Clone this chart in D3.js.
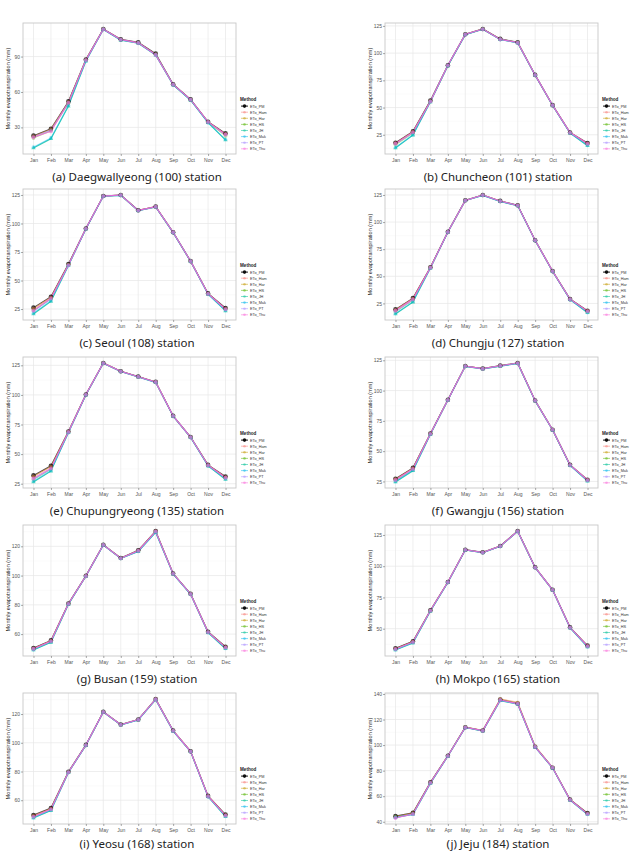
<!DOCTYPE html>
<html>
<head>
<meta charset="utf-8">
<script src="https://cdn.jsdelivr.net/npm/d3@7"></script>
<style>
  body { margin: 0; background: #fff; }
  svg { display: block; }
</style>
</head>
<body>
<div id="chart"></div>
<script>
const months = ["Jan","Feb","Mar","Apr","May","Jun","Jul","Aug","Sep","Oct","Nov","Dec"];
const methods = ["ETo_PM","ETo_Ham","ETo_Har","ETo_HS","ETo_JH","ETo_Mak","ETo_PT","ETo_Thu"];
const methodColors = ["#000000","#F8766D","#C49A00","#53B400","#00C094","#00B6EB","#A58AFF","#FB61D7"];

const captions = [
  "(a) Daegwallyeong (100) station", "(b) Chuncheon (101) station",
  "(c) Seoul (108) station", "(d) Chungju (127) station",
  "(e) Chupungryeong (135) station", "(f) Gwangju (156) station",
  "(g) Busan (159) station", "(h) Mokpo (165) station",
  "(i) Yeosu (168) station", "(j) Jeju (184) station"
];

const yTicks = [
  [30,60,90], [25,50,75,100,125],
  [25,50,75,100,125], [25,50,75,100,125],
  [25,50,75,100,125], [25,50,75,100,125],
  [60,80,100,120], [50,75,100,125],
  [60,80,100,120], [40,60,80,100,120,140]
];

// rows: PM, Ham, Har, HS, JH, Mak, PT, Thu
const daegwallyeong = [
  [23.0,28.9,52.0,87.5,113.4,104.6,102.1,92.5,66.6,53.7,34.8,24.9],
  [22.5,28.5,51.5,87.2,113.3,104.4,101.8,92.0,66.4,53.5,34.6,24.5],
  [22.3,28.3,51.3,87.0,113.2,104.3,101.7,91.8,66.3,53.4,34.5,24.3],
  [21.0,27.2,50.5,86.8,113.2,104.2,101.5,91.5,66.2,53.3,34.2,22.8],
  [12.5,20.4,48.0,86.0,113.0,103.9,101.3,91.2,66.0,53.0,34.0,19.3],
  [13.2,21.0,48.5,86.2,113.0,104.0,101.3,91.3,66.0,53.1,33.9,19.8],
  [21.8,27.5,51.0,86.9,113.1,104.3,101.6,91.6,66.2,53.4,34.4,23.8],
  [21.6,26.6,50.8,87.0,113.2,104.4,101.6,91.4,66.4,53.5,34.6,24.0]
];
const chuncheon = [
  [17.7,28.1,56.5,88.9,117.4,122.2,113.1,110.0,80.0,52.2,27.1,17.4],
  [17.3,27.8,56.0,88.7,117.3,122.1,112.9,109.8,79.9,52.1,27.0,17.0],
  [17.1,27.6,55.8,88.6,117.2,122.0,112.8,109.7,79.8,52.0,26.9,16.8],
  [15.8,26.5,55.5,88.5,117.2,122.0,112.7,109.6,79.8,52.0,26.8,16.0],
  [12.8,24.7,55.2,88.3,117.0,121.9,112.5,109.4,79.7,51.9,26.6,14.9],
  [13.3,25.0,55.3,88.4,117.0,121.9,112.5,109.4,79.7,51.9,26.5,15.2],
  [16.6,27.0,55.6,88.6,117.1,121.9,112.6,109.5,79.8,52.0,26.8,16.4],
  [17.0,27.4,55.6,88.8,117.3,122.1,112.8,109.7,80.0,52.2,27.0,16.9]
];
const seoul = [
  [26.2,35.8,64.4,95.6,124.1,125.0,111.6,114.8,92.3,67.0,38.7,25.9],
  [25.6,35.3,64.0,95.5,124.0,124.9,111.5,114.7,92.2,66.9,38.5,25.4],
  [25.2,35.0,63.9,95.4,124.0,124.9,111.4,114.6,92.2,66.9,38.4,25.1],
  [23.5,33.8,63.5,95.3,123.9,124.7,111.3,114.5,92.1,66.8,38.2,24.3],
  [20.6,31.7,63.0,95.2,123.8,124.6,111.2,114.4,92.0,66.8,38.0,23.3],
  [21.3,32.2,63.1,95.2,123.8,124.6,111.2,114.4,92.0,66.7,37.9,23.6],
  [23.2,33.9,63.3,95.3,123.9,124.8,111.3,114.5,92.1,66.9,38.2,24.6],
  [23.8,34.6,63.5,95.5,124.0,124.9,111.5,114.7,92.3,67.0,38.4,25.0]
];
const chungju = [
  [19.5,29.9,58.4,91.0,120.1,125.0,119.5,115.5,83.3,54.8,29.0,18.3],
  [19.1,29.5,58.2,90.9,120.0,124.9,119.4,115.4,83.2,54.7,28.9,18.0],
  [18.9,29.3,58.1,90.9,120.0,124.9,119.3,115.3,83.2,54.7,28.8,17.8],
  [17.2,28.0,57.8,90.8,119.9,124.8,119.2,115.2,83.1,54.6,28.7,17.2],
  [15.2,26.2,57.5,90.6,119.8,124.6,119.0,115.0,83.0,54.5,28.5,16.4],
  [15.6,26.6,57.6,90.7,119.8,124.6,119.0,115.0,83.0,54.5,28.4,16.6],
  [17.8,28.4,57.9,90.8,119.9,124.8,119.2,115.2,83.1,54.6,28.7,17.5],
  [18.6,29.0,58.0,90.9,120.0,124.9,119.4,115.4,83.3,54.8,28.9,17.9]
];
const chupungryeong = [
  [32.0,40.1,69.1,100.4,127.0,120.0,115.5,111.0,82.3,64.4,40.9,31.1],
  [31.4,39.6,68.9,100.3,126.9,119.9,115.4,110.9,82.2,64.3,40.7,30.7],
  [31.0,39.3,68.8,100.2,126.9,119.9,115.4,110.9,82.2,64.3,40.6,30.4],
  [28.5,37.3,68.4,100.1,126.8,119.8,115.3,110.7,82.1,64.2,40.3,29.5],
  [26.4,35.6,68.0,99.9,126.7,119.7,115.2,110.6,82.0,64.1,40.0,28.6],
  [27.0,36.1,68.1,100.0,126.7,119.7,115.2,110.6,82.0,64.1,40.0,28.9],
  [29.0,37.6,68.5,100.1,126.8,119.8,115.3,110.8,82.1,64.2,40.4,29.8],
  [29.7,38.1,68.7,100.3,126.9,119.9,115.4,110.9,82.3,64.4,40.6,30.2]
];
const gwangju = [
  [27.2,36.2,64.5,92.4,120.3,118.2,120.6,122.8,91.8,67.7,38.7,26.4],
  [26.9,35.9,64.4,92.3,120.2,118.1,120.5,122.7,91.7,67.6,38.6,26.2],
  [26.8,35.7,64.3,92.3,120.2,118.1,120.4,122.6,91.7,67.6,38.5,26.1],
  [25.6,34.8,64.1,92.2,120.1,118.0,120.3,122.5,91.6,67.5,38.4,25.8],
  [24.5,33.8,63.8,92.0,120.0,117.9,120.2,122.4,91.5,67.4,38.2,25.3],
  [24.8,34.1,63.9,92.1,120.0,117.9,120.2,122.4,91.5,67.4,38.2,25.5],
  [25.9,35.0,64.1,92.2,120.1,118.0,120.3,122.5,91.6,67.5,38.4,25.9],
  [26.4,35.5,64.3,92.3,120.2,118.1,120.5,122.7,91.8,67.7,38.6,26.2]
];
const busan = [
  [50.5,55.7,80.9,99.8,121.1,112.0,117.3,130.5,101.4,87.5,61.6,51.4],
  [50.2,55.4,80.8,99.7,121.0,111.9,117.1,130.3,101.3,87.4,61.5,51.1],
  [50.1,55.3,80.7,99.7,121.0,111.9,117.0,130.2,101.3,87.4,61.4,51.0],
  [49.6,54.8,80.5,99.6,120.9,111.8,116.7,129.9,101.2,87.3,61.2,50.5],
  [49.1,54.3,80.3,99.5,120.8,111.7,116.4,129.5,101.0,87.2,61.0,50.0],
  [49.3,54.5,80.4,99.5,120.8,111.7,116.5,129.6,101.1,87.2,61.0,50.2],
  [49.8,55.0,80.6,99.6,120.9,111.8,116.8,130.0,101.2,87.3,61.3,50.7],
  [50.0,55.2,80.7,99.7,121.0,111.9,117.0,130.2,101.3,87.4,61.4,50.9]
];
const mokpo = [
  [34.3,39.9,64.7,87.4,113.2,111.1,116.2,128.2,99.1,81.2,51.1,36.4],
  [34.0,39.6,64.6,87.3,113.1,111.0,116.1,128.1,99.0,81.1,51.0,36.2],
  [33.9,39.5,64.5,87.3,113.1,111.0,116.1,128.0,99.0,81.1,50.9,36.1],
  [33.4,39.0,64.2,87.1,113.0,110.9,116.0,127.9,98.9,81.0,50.7,35.7],
  [32.9,38.5,64.0,87.0,112.9,110.8,115.9,127.8,98.8,80.9,50.6,35.3],
  [33.1,38.7,64.1,87.0,112.9,110.8,115.9,127.8,98.8,80.9,50.6,35.5],
  [33.5,39.1,64.3,87.2,113.0,110.9,116.0,127.9,98.9,81.0,50.8,35.8],
  [33.8,39.4,64.5,87.3,113.1,111.0,116.1,128.1,99.0,81.1,50.9,36.1]
];
const yeosu = [
  [49.7,54.6,79.8,98.5,121.6,112.7,116.2,130.5,108.5,94.1,63.0,50.0],
  [49.3,54.2,79.7,98.4,121.5,112.6,116.1,130.4,108.4,94.0,62.9,49.7],
  [49.1,54.0,79.6,98.4,121.5,112.6,116.1,130.3,108.3,94.0,62.8,49.6],
  [48.3,53.3,79.4,98.3,121.4,112.5,116.0,130.1,108.2,93.9,62.6,49.1],
  [47.6,52.8,79.2,98.2,121.3,112.4,115.9,130.0,108.1,93.8,62.4,48.6],
  [47.8,53.0,79.3,98.2,121.3,112.4,115.9,130.0,108.1,93.8,62.4,48.8],
  [48.4,53.5,79.4,98.3,121.4,112.5,116.0,130.2,108.2,93.9,62.6,49.2],
  [48.6,53.8,79.5,98.4,121.5,112.6,116.1,130.3,108.4,94.0,62.8,49.4]
];
const jeju = [
  [44.4,47.0,70.9,91.7,114.0,111.4,135.6,132.5,98.7,82.3,57.4,46.8],
  [44.0,46.8,70.7,91.6,114.0,111.5,136.1,133.5,99.2,82.5,57.3,46.5],
  [43.9,46.7,70.6,91.6,114.0,111.4,135.9,133.2,99.0,82.4,57.3,46.4],
  [43.6,46.2,70.3,91.4,113.8,111.2,135.2,132.3,98.6,82.2,57.1,46.0],
  [43.4,45.7,70.0,91.2,113.7,111.0,134.8,132.0,98.3,82.0,56.9,45.7],
  [43.5,45.9,70.1,91.3,113.7,111.1,134.9,132.1,98.4,82.1,56.9,45.8],
  [43.2,46.0,70.4,91.4,113.8,111.2,135.1,132.3,98.5,82.2,57.1,46.0],
  [42.9,46.1,70.5,91.5,113.9,111.3,135.3,132.4,98.6,82.3,57.2,46.2]
];

const stations = [daegwallyeong, chuncheon, seoul, chungju, chupungryeong,
                  gwangju, busan, mokpo, yeosu, jeju];

var W = 637, H = 852;
var plotW = 213, plotH = 131;
var colLeft = [23, 385];
var rowTop = [23, 189, 357, 525, 693];

// per-method drawing opacity (line, point)
var lineAlpha = [0.7, 0.45, 0.4, 0.45, 0.75, 0.5, 0.7, 0.8];
var ptAlpha = [0.75, 0.3, 0.3, 0.35, 0.55, 0.35, 0.45, 0.5];

var svg = d3.select("#chart").append("svg")
  .attr("width", W).attr("height", H)
  .style("font-family", "'Liberation Sans', Arial, sans-serif");

var x = d3.scalePoint().domain(months).range([0, plotW]).padding(0.6);

stations.forEach(function(data, i) {
  var col = i % 2, row = Math.floor(i / 2);
  var g = svg.append("g")
    .attr("transform", "translate(" + colLeft[col] + "," + rowTop[row] + ")");

  var all = d3.merge(data);
  var lo = d3.min(all), hi = d3.max(all), pad = (hi - lo) * 0.05;
  var y = d3.scaleLinear().domain([lo - pad, hi + pad]).range([plotH, 0]);

  var ticks = yTicks[i];
  var step = ticks[1] - ticks[0];
  var minor = d3.range(ticks[0] - step / 2, ticks[ticks.length - 1] + step, step)
    .filter(function(v) { return v > y.domain()[0] && v < y.domain()[1]; });

  // panel background and grid
  g.append("rect").attr("width", plotW).attr("height", plotH).attr("fill", "#fff");
  g.selectAll(".minor").data(minor).enter().append("line")
    .attr("x1", 0).attr("x2", plotW)
    .attr("y1", function(d) { return y(d); }).attr("y2", function(d) { return y(d); })
    .attr("stroke", "#f2f2f2").attr("stroke-width", 0.4);
  g.selectAll(".major").data(ticks).enter().append("line")
    .attr("x1", 0).attr("x2", plotW)
    .attr("y1", function(d) { return y(d); }).attr("y2", function(d) { return y(d); })
    .attr("stroke", "#e6e6e6").attr("stroke-width", 0.7);
  g.selectAll(".vgrid").data(months).enter().append("line")
    .attr("x1", function(d) { return x(d); }).attr("x2", function(d) { return x(d); })
    .attr("y1", 0).attr("y2", plotH)
    .attr("stroke", "#e6e6e6").attr("stroke-width", 0.7);

  // series
  var line = d3.line()
    .x(function(d, k) { return x(months[k]); })
    .y(function(d) { return y(d); });

  data.forEach(function(vals, m) {
    g.append("path").datum(vals)
      .attr("d", line)
      .attr("fill", "none")
      .attr("stroke", methodColors[m])
      .attr("stroke-opacity", lineAlpha[m])
      .attr("stroke-width", 1.1);
  });
  data.forEach(function(vals, m) {
    var pts = g.selectAll(".pt" + m).data(vals).enter();
    if (m === 4) {
      pts.append("path")
        .attr("d", d3.symbol(d3.symbolTriangle, 9))
        .attr("transform", function(d, k) { return "translate(" + x(months[k]) + "," + y(d) + ")"; })
        .attr("fill", methodColors[m]).attr("fill-opacity", ptAlpha[m]);
    } else {
      pts.append("circle")
        .attr("cx", function(d, k) { return x(months[k]); })
        .attr("cy", function(d) { return y(d); })
        .attr("r", m === 0 ? 2.3 : 1.9)
        .attr("fill", methodColors[m])
        .attr("fill-opacity", ptAlpha[m]);
    }
  });

  // border
  g.append("rect").attr("width", plotW).attr("height", plotH)
    .attr("fill", "none").attr("stroke", "#c8c8c8").attr("stroke-width", 0.9);

  // axes
  var yAxis = g.append("g").call(d3.axisLeft(y).tickValues(ticks).tickSize(2).tickPadding(1));
  var xAxis = g.append("g").attr("transform", "translate(0," + plotH + ")")
    .call(d3.axisBottom(x).tickSize(2).tickPadding(2));
  [yAxis, xAxis].forEach(function(a) {
    a.select(".domain").remove();
    a.selectAll(".tick line").attr("stroke", "#555").attr("stroke-width", 0.5);
    a.selectAll("text").attr("fill", "#555").style("font-size", "5px");
  });

  g.append("text")
    .attr("transform", "translate(-13," + (plotH / 2) + ") rotate(-90)")
    .attr("text-anchor", "middle")
    .style("font-size", "5.6px").attr("fill", "#222")
    .text("Monthly evapotranspiration (mm)");

  // legend
  var lg = g.append("g").attr("transform", "translate(" + (plotW + 4) + "," + 78 + ")");
  lg.append("text").attr("x", 0).attr("y", 0)
    .style("font-size", "4.6px").style("font-weight", "bold").attr("fill", "#222")
    .text("Method");
  methods.forEach(function(name, m) {
    var yy = 6.5 + m * 6.1;
    lg.append("line").attr("x1", 1).attr("x2", 8).attr("y1", yy - 1.4).attr("y2", yy - 1.4)
      .attr("stroke", methodColors[m]).attr("stroke-opacity", m === 0 ? 0.9 : 0.5).attr("stroke-width", 1);
    lg.append("circle").attr("cx", 4.5).attr("cy", yy - 1.4).attr("r", m === 0 ? 1.8 : 1.3)
      .attr("fill", methodColors[m]).attr("fill-opacity", m === 0 ? 0.9 : 0.45);
    lg.append("text").attr("x", 10).attr("y", yy)
      .style("font-size", "3.8px").attr("fill", "#333")
      .text(name);
  });

  // caption
  svg.append("text")
    .attr("x", colLeft[col] + (col ? 113 : 114))
    .attr("y", Math.min(rowTop[row] + plotH + 27, H - 4))
    .attr("text-anchor", "middle")
    .style("font-family", "'Noto Sans', sans-serif")
    .style("font-size", "11.5px").attr("fill", "#222")
    .text(captions[i]);
});
</script>
</body>
</html>
